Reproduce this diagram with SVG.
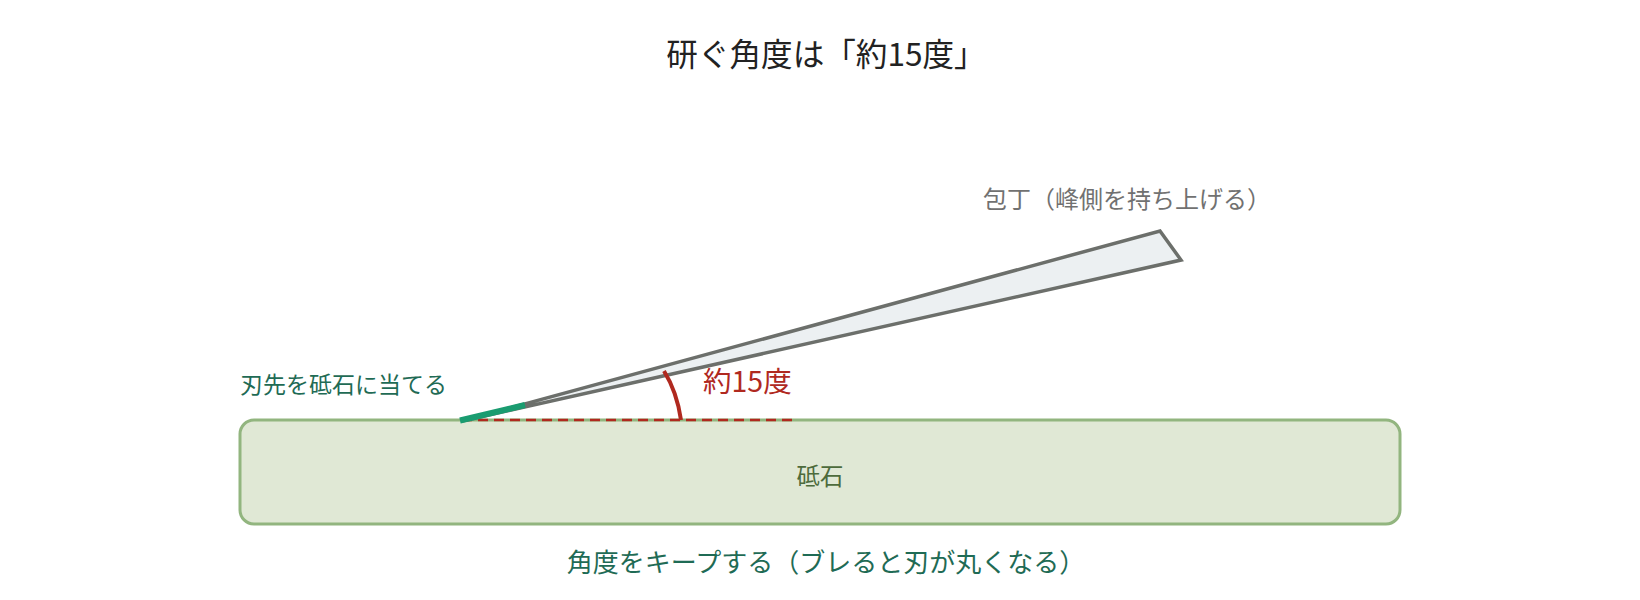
<svg xmlns="http://www.w3.org/2000/svg" width="1640" height="600" viewBox="0 0 1640 600">
  <style>
    text { font-family: "Noto Sans CJK JP", "Noto Sans", sans-serif; }
    .title { font-size: 31.6px; fill: #222222; text-anchor: middle; }
    .knife-label { font-size: 24px; fill: #717171; }
    .edge-label { font-size: 23px; fill: #1f6b55; }
    .angle-label { font-size: 28.5px; fill: #b0291f; }
    .stone-label { font-size: 23.5px; fill: #4d6b3c; text-anchor: middle; }
    .note { font-size: 26px; fill: #1f6b55; text-anchor: middle; }
  </style>
  <rect width="1640" height="600" fill="#ffffff"/>
  <text class="title" x="826" y="66">研ぐ角度は「約15度」</text>

  <g id="whetstone">
    <rect x="240" y="420" width="1160" height="104" rx="14" fill="#e0e8d5" stroke="#92b57f" stroke-width="3"/>
    <text class="stone-label" x="820" y="485">砥石</text>
  </g>

  <g id="knife">
    <polygon points="462,421 1160,231 1181,260" fill="#ecf0f2" stroke="#6c6f6b" stroke-width="3.5" stroke-linejoin="miter"/>
    <text class="knife-label" x="983" y="208">包丁（峰側を持ち上げる）</text>
  </g>

  <g id="connectors">
    <line x1="462" y1="420" x2="797" y2="420" stroke="#b0291f" stroke-width="2.5" stroke-dasharray="10,6"/>
    <path d="M 664 371 Q 677 392 681 420" fill="none" stroke="#b0291f" stroke-width="4"/>
    <line x1="460" y1="420.5" x2="525" y2="405" stroke="#1a9c70" stroke-width="6"/>
  </g>

  <g id="edge-label">
    <text class="edge-label" x="240" y="393">刃先を砥石に当てる</text>
  </g>
  <g id="angle-label">
    <text class="angle-label" x="703" y="392">約15度</text>
  </g>
  <g id="note">
    <text class="note" x="826" y="572">角度をキープする（ブレると刃が丸くなる）</text>
  </g>
</svg>
